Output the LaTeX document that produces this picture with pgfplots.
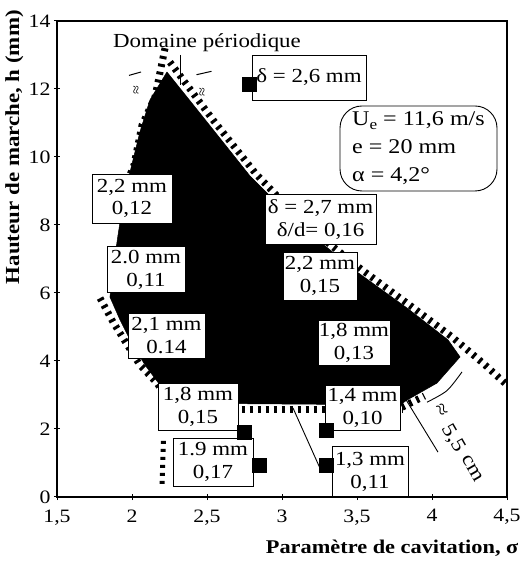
\documentclass[border=0pt]{standalone}
\usepackage{fontspec}
\setmainfont{Liberation Serif}[FakeStretch=1.15]
\usepackage{pgfplots}
\pgfplotsset{compat=1.18}
\tikzset{
  lab/.style={draw, fill=white, line width=0.8bp, align=center, inner sep=1bp,
              font=\fontsize{20}{23}\selectfont},
  hatch/.style={black, line width=7bp, dash pattern=on 3bp off 5bp},
}
\begin{document}
\begin{tikzpicture}
\useasboundingbox (0,0) rectangle (529bp,566bp);
\begin{axis}[
  at={(57bp,69bp)}, anchor=south west,
  scale only axis, width=450bp, height=476bp,
  xmin=1.5, xmax=4.5, ymin=0, ymax=14,
  xtick={1.5,2,2.5,3,3.5,4,4.5},
  xticklabels={{1,5},2,{2,5},3,{3,5},4,{4,5}},
  ytick={0,2,4,6,8,10,12,14},
  yticklabels={0,2,4,6,8,10,12,14},
  xtick pos=left, ytick pos=left,
  tick align=center, major tick length=6bp,
  axis line style={line width=1.1bp},
  every tick/.style={black, line width=1bp},
  ticklabel style={font=\fontsize{19}{21}\selectfont},
  xticklabel style={yshift=-6bp},
  xlabel={\textbf{Paramètre de cavitation, σ}},
  ylabel={\textbf{Hauteur de marche, h (mm)}},
  label style={font=\fontsize{20}{22}\selectfont},
  xlabel style={at={(axis description cs:1.033,-0.107)}, anchor=east,
                font=\fontsize{19.5}{22}\selectfont},
  ylabel style={at={(axis description cs:-0.095,0.735)}, anchor=center, rotate=0},
  clip=false,
]
% black domain
\addplot[draw=black, fill=black, line width=0.5bp] coordinates {
 (2.233,12.50) (2.12,11.68) (2.053,10.74) (1.987,9.56) (1.933,8.44)
 (1.907,7.71) (1.873,6.68) (1.853,5.88) (1.92,5.21) (1.987,4.62)
 (2.087,3.88) (2.187,3.29) (2.227,2.76) (3.787,2.71) (3.833,2.85)
 (4.033,3.35) (4.187,4.12) (4.107,4.62) (3.833,5.56) (3.50,6.62)
 (3.10,8.06) (2.787,9.44) (2.50,11.03) (2.233,12.50)};
% hatched boundaries
\addplot[hatch] coordinates {
 (2.253,12.79) (2.54,11.09) (2.827,9.50) (3.133,8.09) (3.533,6.68)
 (3.867,5.59) (4.133,4.71) (4.347,3.91) (4.493,3.32)};
\addplot[hatch] coordinates {
 (2.22,13.2) (2.153,11.76) (2.067,10.94) (2.013,9.76) (1.973,9.32)};
\addplot[hatch] coordinates {
 (1.787,5.85) (1.873,5.15) (2.053,3.88) (2.167,3.35) (2.207,3.09)};
\addplot[hatch] coordinates {(2.25,2.58) (3.80,2.58)};
\addplot[hatch] coordinates {(3.80,2.64) (3.95,2.97)};
\addplot[hatch, line width=5bp] coordinates {(2.21,1.65) (2.20,0.30)};
% thin lines
\addplot[black, line width=0.9bp] coordinates {(2.32,13.0) (2.32,12.12)};
\addplot[black, line width=0.9bp] coordinates {(3.82,2.91) (4.04,1.32)};
\addplot[black, line width=0.9bp] coordinates {(3.073,2.62) (3.253,0.85)};
\addplot[black, line width=0.9bp, smooth] coordinates {(3.967,2.79) (4.10,3.13) (4.20,3.68)};
\addplot[black, line width=1bp] coordinates {(1.98,12.40) (2.06,12.50)};
\addplot[black, line width=1bp] coordinates {(2.43,12.42) (2.53,12.52)};
\node[font=\fontsize{14}{14}\selectfont, rotate=90] at (axis cs:2.033,11.97) {≈};
\node[font=\fontsize{14}{14}\selectfont, rotate=90] at (axis cs:2.473,11.91) {≈};
% text
\node[anchor=base, font=\fontsize{20}{22}\selectfont] at (axis cs:2.50,13.22) {Domaine périodique};
\node[font=\fontsize{20}{22}\selectfont, rotate=-60, inner sep=0pt] at (axis cs:4.06,2.55) {≈};
\node[font=\fontsize{20}{22}\selectfont, rotate=-60, inner sep=0pt] at (axis cs:4.14,1.73) {5,5};
\node[font=\fontsize{20}{22}\selectfont, rotate=-60, inner sep=0pt] at (axis cs:4.27,0.83) {cm};
% boxes
\node[lab, minimum width=114bp, minimum height=45bp] at (axis cs:3.18,12.34) {δ = 2,6 mm};
\node[lab, minimum width=80bp, minimum height=49bp] at (axis cs:2.0,8.78) {2,2 mm\\0,12};
\node[lab, minimum width=78bp, minimum height=46bp] at (axis cs:2.093,6.68) {2.0 mm\\0,11};
\node[lab, minimum width=77bp, minimum height=45bp] at (axis cs:2.23,4.75) {2,1 mm\\0.14};
\node[lab, minimum width=111bp, minimum height=50bp] at (axis cs:3.257,8.15) {δ = 2,7 mm\\δ/d= 0,16};
\node[lab, minimum width=74bp, minimum height=48bp] at (axis cs:3.253,6.5) {2,2 mm\\0,15};
\node[lab, minimum width=72bp, minimum height=45bp] at (axis cs:3.48,4.54) {1,8 mm\\0,13};
\node[lab, minimum width=75bp, minimum height=45bp] at (axis cs:3.537,2.63) {1,4 mm\\0,10};
\node[lab, minimum width=76bp, minimum height=50bp] at (axis cs:3.587,0.74) {1,3 mm\\0,11};
\node[lab, minimum width=80bp, minimum height=47bp] at (axis cs:2.44,2.66) {1,8 mm\\0,15};
\node[lab, minimum width=80bp, minimum height=48bp] at (axis cs:2.54,1.03) {1.9 mm\\0,17};
\node[draw, fill=white, line width=0.9bp, rounded corners=22bp, align=left,
      minimum width=157bp, minimum height=85bp, inner sep=4bp,
      font=\fontsize{21}{28}\selectfont] at (axis cs:3.91,10.25)
  {U\raisebox{-4bp}{\fontsize{15}{15}\selectfont e} = 11,6 m/s\\e = 20 mm\\α = 4,2°};
% measurement points
\addplot[only marks, mark=square*, mark size=7bp, black] coordinates {
 (2.78,12.15) (2.747,1.91) (2.847,0.94) (3.293,1.97) (3.293,0.94)};
\end{axis}
\end{tikzpicture}
\end{document}
